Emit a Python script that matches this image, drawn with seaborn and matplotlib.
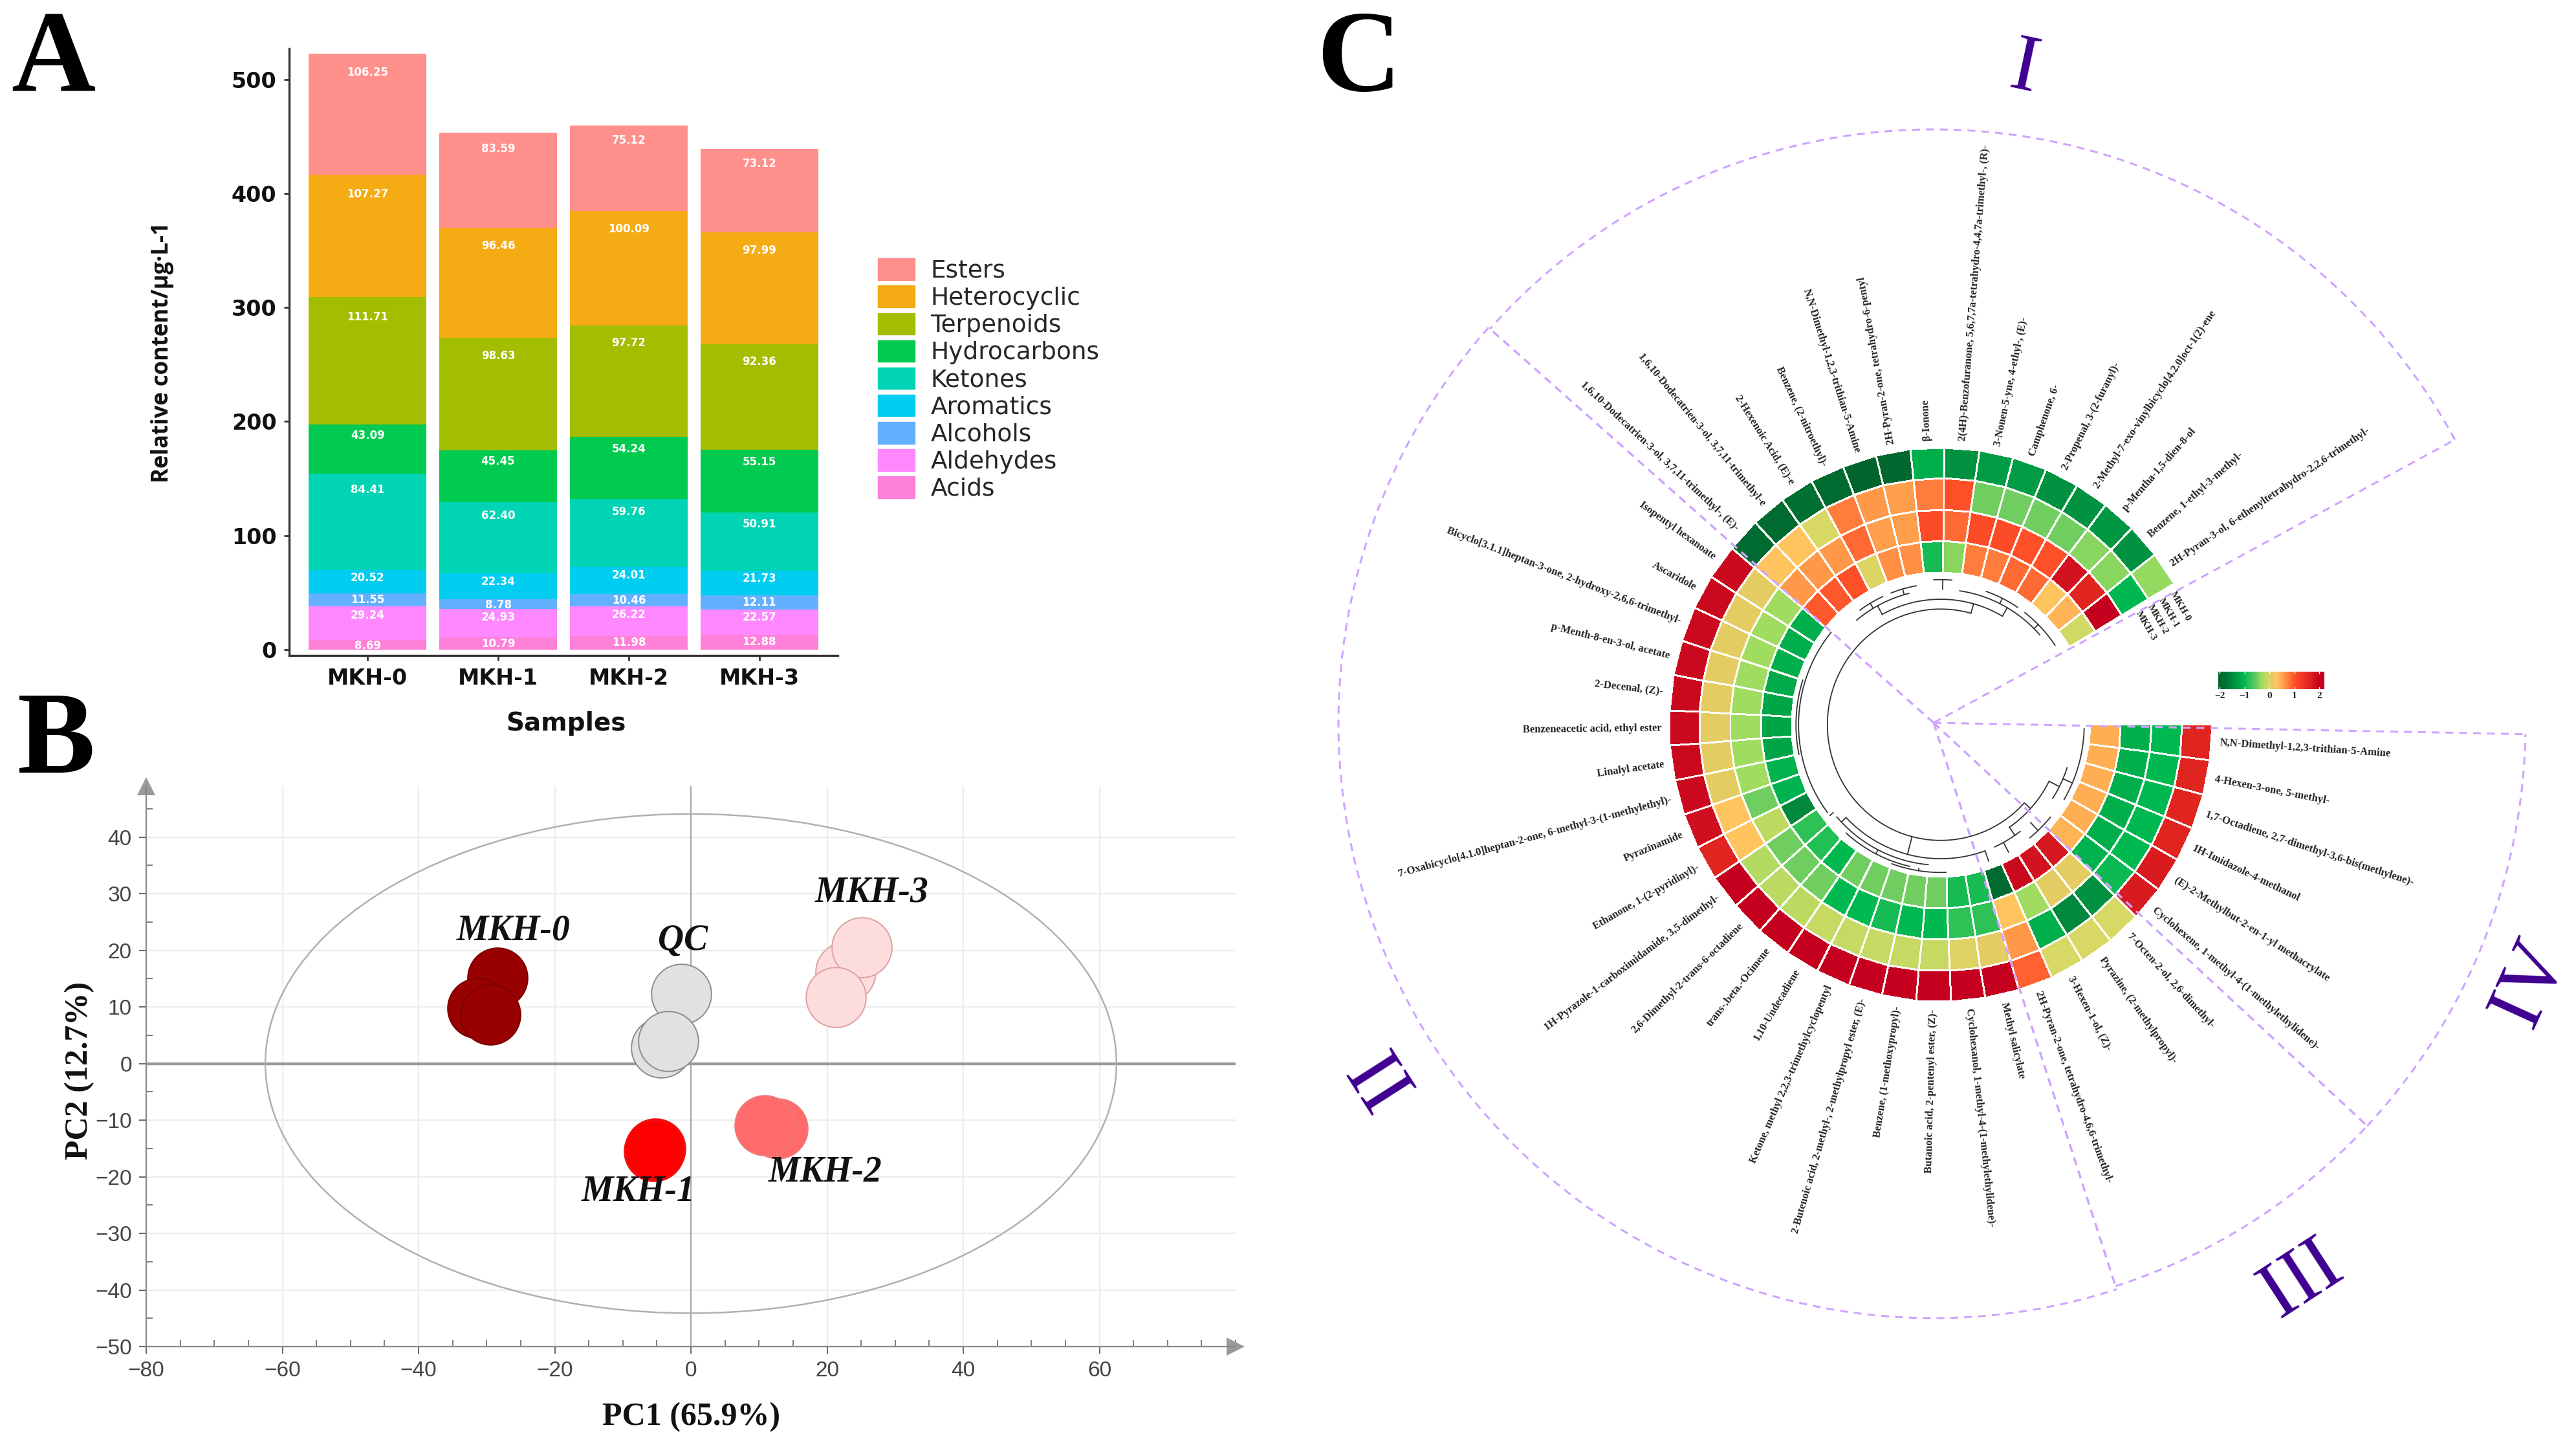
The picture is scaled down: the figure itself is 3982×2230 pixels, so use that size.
import numpy as np
import pandas as pd
import seaborn as sns
import matplotlib.pyplot as plt
from matplotlib.colors import LinearSegmentedColormap, Normalize
from matplotlib.patches import Ellipse, Patch
from matplotlib.ticker import MultipleLocator

W, H = 3982, 2230

# panel A
samples = ["MKH-0", "MKH-1", "MKH-2", "MKH-3"]
acids = [8.69, 10.79, 11.98, 12.88]
aldehydes = [29.24, 24.93, 26.22, 22.57]
alcohols = [11.55, 8.78, 10.46, 12.11]
aromatics = [20.52, 22.34, 24.01, 21.73]
ketones = [84.41, 62.40, 59.76, 50.91]
hydrocarbons = [43.09, 45.45, 54.24, 55.15]
terpenoids = [111.71, 98.63, 97.72, 92.36]
heterocyclic = [107.27, 96.46, 100.09, 97.99]
esters = [106.25, 83.59, 75.12, 73.12]
class_names = ["Acids", "Aldehydes", "Alcohols", "Aromatics", "Ketones",
               "Hydrocarbons", "Terpenoids", "Heterocyclic", "Esters"]
class_values = [acids, aldehydes, alcohols, aromatics, ketones,
                hydrocarbons, terpenoids, heterocyclic, esters]
class_colors = ["#FF80D8", "#FF88FF", "#63B0FF", "#00CDF0", "#00D4B4",
                "#00CA50", "#A3BE00", "#F5AB14", "#FF8F8A"]

# panel B
pc1_mkh0 = [-28.4, -31.4, -29.5]
pc2_mkh0 = [15.2, 9.8, 8.7]
pc1_mkh1 = [-5.2, -5.4, -5.3]
pc2_mkh1 = [-15.0, -15.5, -15.3]
pc1_mkh2 = [12.7, 10.8]
pc2_mkh2 = [-11.5, -10.9]
pc1_mkh3 = [22.7, 25.1, 21.3]
pc2_mkh3 = [16.2, 20.5, 11.7]
pc1_qc = [-1.4, -4.4, -3.3]
pc2_qc = [12.3, 2.8, 4.0]

# panel C, cells run clockwise starting at east
compounds = [
    "N,N-Dimethyl-1,2,3-trithian-5-Amine", "4-Hexen-3-one, 5-methyl-",
    "1,7-Octadiene, 2,7-dimethyl-3,6-bis(methylene)-", "1H-Imidazole-4-methanol",
    "(E)-2-Methylbut-2-en-1-yl methacrylate", "Cyclohexene, 1-methyl-4-(1-methylethylidene)-",
    "7-Octen-2-ol, 2,6-dimethyl-", "Pyrazine, (2-methylpropyl)-", "3-Hexen-1-ol, (Z)-",
    "2H-Pyran-2-one, tetrahydro-4,6,6-trimethyl-", "Methyl salicylate",
    "Cyclohexanol, 1-methyl-4-(1-methylethylidene)-", "Butanoic acid, 2-pentenyl ester, (Z)-",
    "Benzene, (1-methoxypropyl)-", "2-Butenoic acid, 2-methyl-, 2-methylpropyl ester, (E)-",
    "Ketone, methyl 2,2,3-trimethylcyclopentyl", "1,10-Undecadiene", "trans-.beta.-Ocimene",
    "2,6-Dimethyl-2-trans-6-octadiene", "1H-Pyrazole-1-carboximidamide, 3,5-dimethyl-",
    "Ethanone, 1-(2-pyridinyl)-", "Pyrazinamide",
    "7-Oxabicyclo[4.1.0]heptan-2-one, 6-methyl-3-(1-methylethyl)-", "Linalyl acetate",
    "Benzeneacetic acid, ethyl ester", "2-Decenal, (Z)-", "p-Menth-8-en-3-ol, acetate",
    "Bicyclo[3.1.1]heptan-3-one, 2-hydroxy-2,6,6-trimethyl-", "Ascaridole", "Isopentyl hexanoate",
    "1,6,10-Dodecatrien-3-ol, 3,7,11-trimethyl-, (E)-", "1,6,10-Dodecatrien-3-ol, 3,7,11-trimethyl-e",
    "2-Hexenoic Acid, (E)-e", "Benzene, (2-nitroethyl)-", "N,N-Dimethyl-1,2,3-trithian-5-Amine",
    "2H-Pyran-2-one, tetrahydro-6-pentyl", "β-Ionone",
    "2(4H)-Benzofuranone, 5,6,7,7a-tetrahydro-4,4,7a-trimethyl-, (R)-",
    "3-Nonen-5-yne, 4-ethyl-, (E)-", "Camphenone, 6-", "2-Propenal, 3-(2-furanyl)-",
    "2-Methyl-7-exo-vinylbicyclo[4.2.0]oct-1(2)-ene", "p-Mentha-1,5-dien-8-ol",
    "Benzene, 1-ethyl-3-methyl-", "2H-Pyran-3-ol, 6-ethenyltetrahydro-2,2,6-trimethyl-",
]
heat_mkh0 = [1.6, 1.6, 1.6, 1.6, 1.7, 1.7, 0, 0, 0, 0.9,
             2, 2, 2, 2, 2, 2, 2, 2, 2, 2, 1.6, 1.85,
             1.9, 1.9, 1.9, 1.9, 1.9, 1.9, 1.9, 1.9,
             -1.9, -1.9, -1.85, -1.9, -2, -1.95, -1.1, -1.4, -1.3, -1.3, -1.4, -1.4, -1.35, -1.4, -0.35]
heat_mkh1 = [-1, -1, -1, -1, -1, -0.95, -1.4, -1.5, -1.1, 0.6,
             0.1, 0.05, -0.1, -0.1, -0.1, -0.1, -0.1, -0.15, -0.15, -0.2, 0.3, 0.3,
             0.1, 0.1, 0.1, 0.1, 0.1, 0.1, 0.1, 0.1,
             0.3, 0.3, 0, 0.75, 0.6, 0.55, 0.75, 1, -0.5, -0.5, -0.5, -0.5, -0.4, -0.4, -1]
heat_mkh2 = [-1.1, -1.1, -1.1, -1.1, -1.1, -1.05, 0.1, 0.1, -0.3, 0.3,
             -0.8, -0.8, -1, -1, -0.9, -1, -1, -0.5, -0.5, -0.5, -0.15, -0.5,
             -0.3, -0.3, -0.3, -0.3, -0.3, -0.3, -0.3, -0.3,
             0.6, 0.6, 0.6, 0.85, 0.55, 0.55, 1.05, 0.85, 1.05, 1.05, 1, 1, 1.8, 1.6, 2]
heat_mkh3 = [0.45, 0.45, 0.45, 0.45, 0.45, 0.4, 1.75, 1.8, 1.9, -1.9,
             -0.9, -0.9, -0.5, -0.5, -0.5, -0.5, -0.5, -1, -0.85, -0.8, -1.5, -1.05,
             -1.05, -1.2, -1.2, -1.2, -1.15, -1.1, -1.1, -1.1,
             0.95, 0.95, 1, 0.03, 0.65, 0.65, -0.9, -0.4, 0.75, 0.75, 0.85, 0.85, 0.3, 0.4, -0.05]
ring_edges = [233, 281, 329, 377, 424]

# dendrogram in cell units: (radius, first cell, last cell) and (cell, radius, radius)
dend_arcs = [(177, 5.8, 39), (192, 33, 41), (207, 31.5, 35), (207, 38, 43.5), (216, 32, 33.5),
             (216, 34, 35.5), (222, 36.5, 37.5), (216, 39.5, 41.5), (216, 42, 44.5), (205, 9.6, 18.6),
             (215, 13, 19), (222, 14, 18), (226, 12, 15), (222, 19.5, 30), (226, 23, 27),
             (190, 3.7, 7.6), (208, 2.5, 4.5), (224, 0.2, 4.2), (205, 7.2, 9), (222, 5.4, 7)]
dend_stems = [(39, 177, 192), (33, 192, 207), (41, 192, 207), (32.7, 207, 216), (34.7, 207, 216),
              (37, 207, 222), (40.5, 207, 216), (43, 207, 216), (14.3, 177, 205), (9.6, 205, 222),
              (18.6, 205, 215), (16, 215, 222), (13.5, 222, 226), (19.3, 215, 222), (5.8, 177, 190),
              (3.7, 190, 208), (3.2, 208, 224), (7.6, 190, 205), (6.4, 205, 222), (8.4, 205, 222)]

sns.set_theme(style="white")
plt.rcParams["font.family"] = ["DejaVu Sans"]
plt.rcParams["mathtext.default"] = "regular"

fig = plt.figure(figsize=(W / 100, H / 100), dpi=100, facecolor="white")


def box(left, top, right, bottom):
    return [left / W, 1 - bottom / H, (right - left) / W, (bottom - top) / H]


def put_text(x, y, s, **kw):
    fig.text(x / W, 1 - y / H, s, ha=kw.pop("ha", "center"), va=kw.pop("va", "center"), **kw)


# A: stacked bars
ax_a = fig.add_axes(box(447, 75, 1295, 1013))
bottom = np.zeros(4)
for name, vals, col in zip(class_names, class_values, class_colors):
    sns.barplot(x=samples, y=vals, bottom=bottom, color=col, saturation=1, width=0.9, linewidth=0, ax=ax_a)
    for i, v in enumerate(vals):
        ax_a.text(i, bottom[i] + v - (4.5 + 0.115 * v), f"{v:.2f}", color="white", fontsize=12,
                  fontweight="bold", ha="center", va="center")
    bottom = bottom + np.array(vals)
ax_a.set_xlim(-0.6, 3.6)
ax_a.set_ylim(-5.1, 527)
ax_a.set_yticks(range(0, 501, 100))
ax_a.tick_params(axis="both", length=6, width=2, color="#333333", left=True, bottom=True, pad=8)
for lab in ax_a.get_xticklabels() + ax_a.get_yticklabels():
    lab.set_fontsize(24)
    lab.set_fontweight("bold")
    lab.set_color("#111111")
sns.despine(ax=ax_a)
for side in ["left", "bottom"]:
    ax_a.spines[side].set_linewidth(2.4)
    ax_a.spines[side].set_color("#333333")
put_text(875, 1118, "Samples", fontsize=28, fontweight="bold", color="#111111")
put_text(251, 545, "Relative content/μg·L-1", rotation=90, fontsize=25, fontweight="bold",
         family="Open Sans", color="#111111")
handles = [Patch(color=c, label=n) for n, c in zip(class_names[::-1], class_colors[::-1])]
ax_a.legend(handles=handles, loc="upper left", bbox_to_anchor=(1346 / W, 1 - 388 / H),
            bbox_transform=fig.transFigure, frameon=False, fontsize=27, handlelength=1.5,
            handleheight=1.0, labelspacing=0.12, handletextpad=0.67, borderaxespad=0, borderpad=0.3)

# B: PCA scores
ax_b = fig.add_axes(box(226, 1215, 1910, 2081))
ax_b.set_xlim(-80, 80)
ax_b.set_ylim(-50, 49)
ax_b.grid(True, which="major", color="#ECECEC", lw=1.6)
ax_b.set_axisbelow(True)
ax_b.xaxis.set_major_locator(MultipleLocator(20))
ax_b.xaxis.set_minor_locator(MultipleLocator(5))
ax_b.yaxis.set_major_locator(MultipleLocator(10))
ax_b.yaxis.set_minor_locator(MultipleLocator(5))
ax_b.axhline(0, color="#9A9A9A", lw=3.2, zorder=1)
ax_b.axvline(0, color="#A8A8A8", lw=1.6, zorder=1)
ax_b.add_patch(Ellipse((0, 0), 125, 88.2, fill=False, ec="#B0B0B0", lw=1.8, zorder=1))
pca_groups = [(pc1_mkh0, pc2_mkh0, "#990000", "#7A0000"), (pc1_qc, pc2_qc, "#E3E1DF", "#8C8C8C"),
              (pc1_mkh3, pc2_mkh3, "#FCDCDC", "#DFA0A0"), (pc1_mkh2, pc2_mkh2, "#FF6B6B", "#EE7A7A"),
              (pc1_mkh1, pc2_mkh1, "#FF0000", "#F01010")]
for xs, ys, fc, ec in pca_groups:
    sns.scatterplot(x=xs, y=ys, s=4450, color=fc, edgecolor=ec, linewidth=1.4, ax=ax_b, zorder=3)
pca_names = ["MKH-0", "QC", "MKH-3", "MKH-1", "MKH-2"]
pca_name_x = [-26.1, -1.2, 26.6, -7.7, 19.7]
pca_name_y = [23.5, 21.7, 30.2, -22.7, -19.3]
for n, x, y in zip(pca_names, pca_name_x, pca_name_y):
    ax_b.text(x, y, n, fontsize=40, family="Liberation Serif", style="italic", fontweight="bold",
              ha="center", va="center", color="#111111", zorder=4)
ax_b.tick_params(axis="both", which="major", direction="out", length=8, width=1.4, color="#666666",
                 labelsize=24, labelcolor="#444444", left=True, bottom=True, pad=8)
ax_b.tick_params(axis="both", which="minor", direction="in", length=7, width=1.2, color="#666666",
                 left=True, bottom=True)
for lab in ax_b.get_xticklabels() + ax_b.get_yticklabels():
    lab.set_fontfamily("Liberation Sans")
ax_b.set_xticks([t for t in range(-80, 61, 20)])
sns.despine(ax=ax_b)
for side in ["left", "bottom"]:
    ax_b.spines[side].set_color("#888888")
    ax_b.spines[side].set_linewidth(1.6)
ax_b.plot(1, 0, ">", transform=ax_b.transAxes, clip_on=False, ms=20, color="#999999", mew=0)
ax_b.plot(0, 1, "^", transform=ax_b.transAxes, clip_on=False, ms=20, color="#999999", mew=0)
put_text(1069, 2190, "PC1 (65.9%)", fontsize=36, fontweight="bold", family="Liberation Serif", color="#111111")
put_text(123, 1654, "PC2 (12.7%)", fontsize=36, fontweight="bold", family="Liberation Serif",
         rotation=90, color="#111111")

# C: circular heatmap
cx, cy = 3000, 1120
r_box = 430
ax_c = fig.add_axes(box(cx - r_box * 0.99, cy - r_box * 1.01, cx + r_box * 0.99, cy + r_box * 1.01),
                    projection="polar")
ax_c.set_aspect("auto")
ax_c.set_theta_zero_location("E")
ax_c.set_theta_direction(-1)
ax_c.set_axis_off()
ax_c.set_ylim(0, r_box)
step = np.radians(329.4 / len(compounds))
vmin, vmax = -2.05, 2.2
nodes = [(-2.05, "#00602B"), (-1.5, "#00893D"), (-1, "#00B850"), (-0.5, "#70CE60"), (-0.3, "#A0DC60"),
         (0, "#D8D864"), (0.1, "#E4CC62"), (0.3, "#FFC45E"), (0.6, "#FF9848"), (1, "#FF4F28"),
         (1.6, "#E02420"), (2, "#C4001E"), (2.2, "#C4001E")]
cmap = LinearSegmentedColormap.from_list("ring", [((v - vmin) / (vmax - vmin), c) for v, c in nodes])
heat = pd.DataFrame([heat_mkh3, heat_mkh2, heat_mkh1, heat_mkh0], columns=compounds)
theta_edges = np.arange(len(compounds) + 1) * step
mesh = ax_c.pcolormesh(theta_edges, ring_edges, heat.values, cmap=cmap, norm=Normalize(vmin, vmax),
                       edgecolors="#FFFFFF", linewidth=1.4, shading="flat")
for i, name in enumerate(compounds):
    cw = (i + 0.5) * step
    deg = -np.degrees(cw) % 360
    # labels left of the top read inwards, the two at the very top still read outwards
    if 105 < deg < 270:
        ax_c.text(cw, 436, name, rotation=deg + 180, rotation_mode="anchor", ha="right", va="center",
                  fontsize=12, fontweight="bold", family="Liberation Serif", color="#222222")
    else:
        ax_c.text(cw, 436, name, rotation=deg, rotation_mode="anchor", ha="left", va="center",
                  fontsize=12, fontweight="bold", family="Liberation Serif", color="#222222")
sample_r = [415, 394, 374, 353]
for name, r in zip(samples, sample_r):
    ax_c.text(np.radians(330.7), r, name, rotation=-60, rotation_mode="anchor", ha="left", va="center",
              fontsize=11, fontweight="bold", family="Liberation Serif", color="#222222")
for r, i0, i1 in dend_arcs:
    t = np.linspace(i0, i1, 80) * step
    ax_c.plot(t, np.full(80, r), color="#333333", lw=1.3)
for i, r0, r1 in dend_stems:
    ax_c.plot([i * step, i * step], [r0, r1], color="#333333", lw=1.3)
ax_c.set_ylim(0, r_box)

cax = fig.add_axes(box(3429, 1038, 3593, 1065))
cbar = fig.colorbar(mesh, cax=cax, orientation="horizontal", ticks=[-2, -1, 0, 1, 2])
cbar.outline.set_visible(False)
cax.tick_params(axis="x", length=0, pad=3, labelsize=11)
for lab in cax.get_xticklabels():
    lab.set_fontfamily("Liberation Serif")
    lab.set_fontweight("bold")
for v in [-2, -1, 0, 1, 2]:
    cax.plot([v, v], [0, 0.12], color="white", lw=1, transform=cax.get_xaxis_transform())
    cax.plot([v, v], [0.88, 1], color="white", lw=1, transform=cax.get_xaxis_transform())

# sector outlines, their origin is a little off the ring centre
ox, oy = 2989, 1117
r_dash = 1000
ax_d = fig.add_axes(box(ox - r_dash, oy - r_dash, ox + r_dash, oy + r_dash), projection="polar")
ax_d.set_theta_zero_location("E")
ax_d.set_axis_off()
ax_d.patch.set_alpha(0)
ax_d.set_ylim(0, r_dash)
sector_starts = [28.5, 138.4, 287.9, 317.1]
sector_ends = [138.4, 287.9, 317.1, 358.9]
sector_r = [917, 920, 915, 915]
dash = dict(color="#CFA4FF", lw=2.2, ls=(0, (4, 3)))
for a0, a1, r in zip(sector_starts, sector_ends, sector_r):
    t = np.radians(np.linspace(a0, a1, 200))
    ax_d.plot(t, np.full(200, r), **dash)
    ax_d.plot([np.radians(a0)] * 2, [0, r], **dash)
    ax_d.plot([np.radians(a1)] * 2, [0, r], **dash)
ax_d.set_ylim(0, r_dash)

# roman numerals and panel letters
numerals = ["I", "II", "III", "IV"]
numeral_x = [3129, 2139, 3538, 3913]
numeral_y = [109, 1660, 1963, 1520]
numeral_rot = [-12, 122.6, -147, 65.5]
for n, x, y, rot in zip(numerals, numeral_x, numeral_y, numeral_rot):
    put_text(x, y, n, fontsize=90, family="Liberation Serif", color="#3F0091", rotation=rot,
             rotation_mode="anchor")
for n, x, y in [("A", 82, 97), ("B", 87, 1150), ("C", 2100, 97)]:
    put_text(x, y, n, fontsize=130, family="Liberation Serif", fontweight="bold", color="black")

fig.savefig("out.png", dpi=100, facecolor="white")
